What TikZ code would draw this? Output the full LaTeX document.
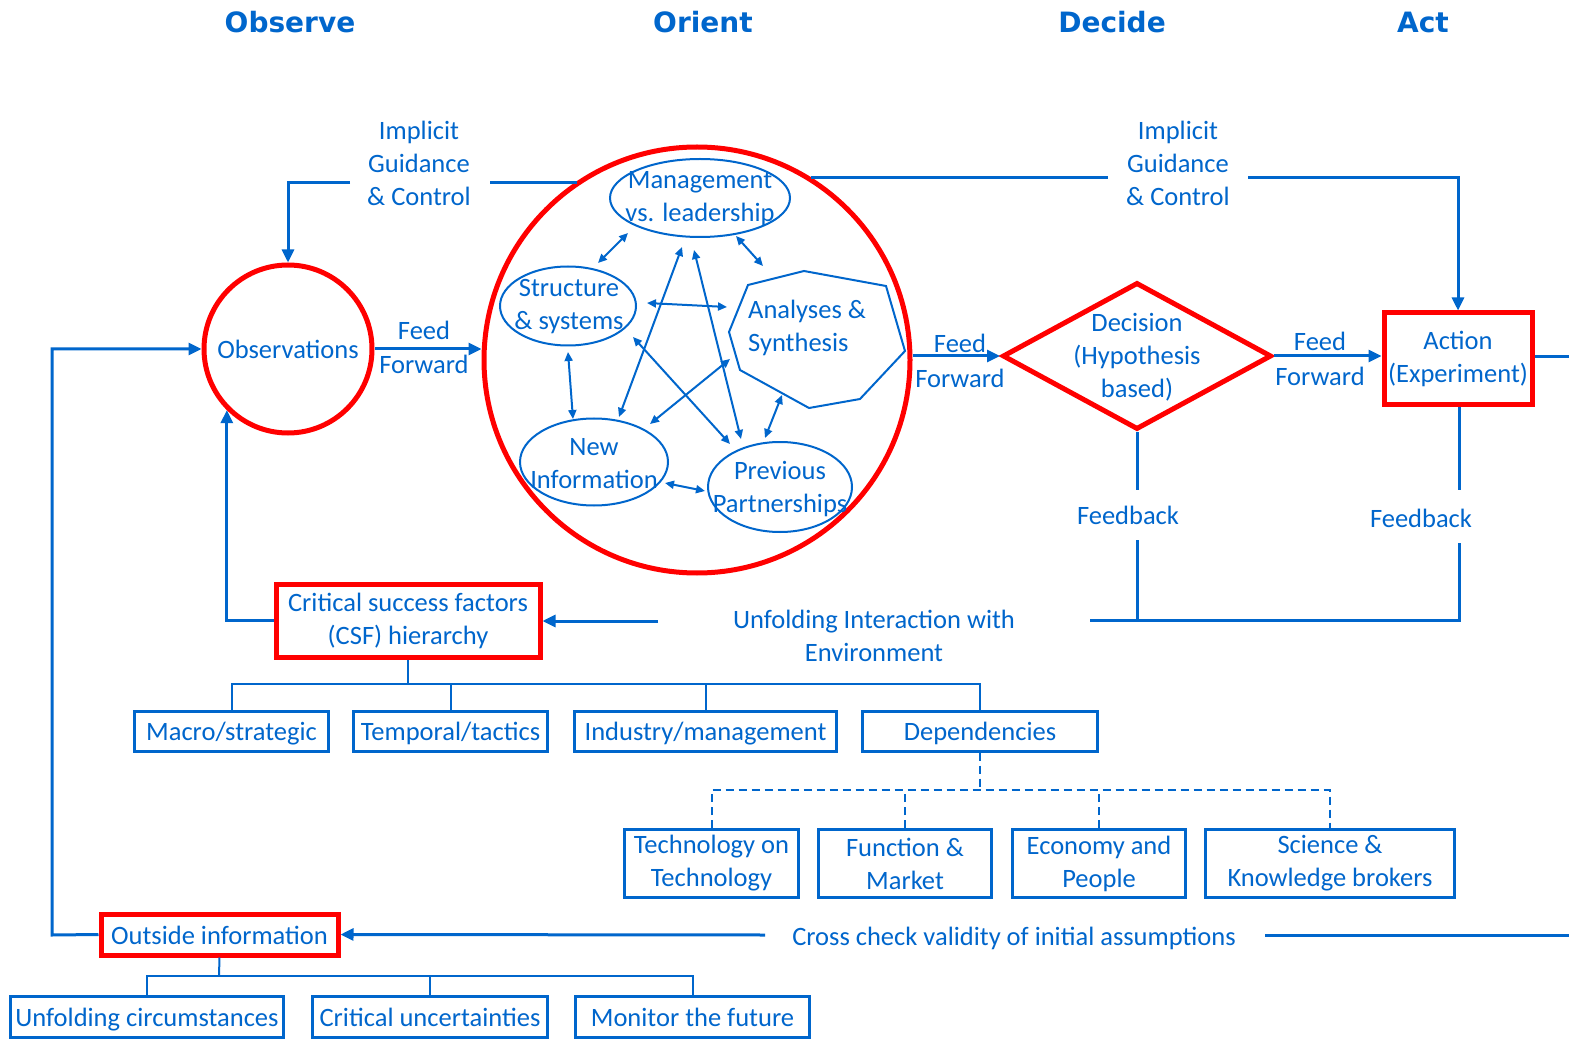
\documentclass[tikz,border=0pt]{standalone}
\usepackage{fontspec}
\setmainfont{Carlito}
\newfontfamily\hdrfont{DejaVu Sans}
\usetikzlibrary{shapes.geometric,arrows.meta,calc}
\definecolor{bl}{RGB}{0,102,204}
\definecolor{rd}{RGB}{255,0,0}
\begin{document}
\begin{tikzpicture}[x=1pt,y=-1pt,
  txt/.style={text=bl, font=\fontsize{26.5}{33}\selectfont, inner sep=0pt, align=center},
  one/.style={text height=21pt, text depth=2pt},
  hdr/.style={text=bl, font=\hdrfont\bfseries\fontsize{28}{34}\selectfont, inner sep=0pt},
  bbox/.style={txt, draw=bl, line width=3pt},
  rbox/.style={txt, draw=rd, line width=5pt},
  el/.style={ellipse, draw=bl, line width=2pt, inner sep=0pt},
  ln/.style={draw=bl, line width=3pt},
  arr/.style={ln, -{Triangle[length=13pt,width=12pt]}},
  tr/.style={draw=bl, line width=2pt},
  iarr/.style={draw=bl, line width=2pt, {Triangle[length=9pt,width=8pt]}-{Triangle[length=9pt,width=8pt]}}
]
\useasboundingbox (0,0) rectangle (1569,1040);
\fill[white] (0,0) rectangle (1569,1040);

% headers
\node[hdr] (hO) at (290,22) {Observe};
\node[hdr] (hR) at (703,22) {Orient};
\node[hdr] (hD) at (1112,22) {Decide};
\node[hdr] (hA) at (1423,22) {Act};

% main shapes
\node[txt, circle, draw=rd, line width=5pt, minimum size=168pt] (obs) at (288,349) {Observations};
\node[circle, draw=rd, line width=5pt, minimum size=426pt, inner sep=0pt] (ori) at (697,360) {};
\node[diamond, draw=rd, line width=5pt, minimum width=269pt, minimum height=147pt, inner sep=0pt] (dec) at (1137,356) {};
\node[txt] (dect) at (1137,357) {Decision\\(Hypothesis\\based)};
\node[rbox, minimum width=148pt, minimum height=92pt] (act) at (1458,359) {Action\\(Experiment)};
\node[rbox, minimum width=264pt, minimum height=73pt] (csf) at (408,620.5) {Critical success factors\\(CSF) hierarchy};
\node[rbox, one, minimum width=237pt, minimum height=41pt] (out) at (219.5,934.5) {Outside information};

% inner orient nodes
\node[el, minimum width=180pt, minimum height=78pt] (mg) at (700,198) {};
\node[txt] (mgt) at (700,199) {Management\\vs. leadership};
\node[el, minimum width=136pt, minimum height=79pt] (ss) at (568,306) {};
\node[txt] (sst) at (569,307) {Structure\\\& systems};
\node[el, minimum width=148pt, minimum height=87pt] (ni) at (594,462) {};
\node[txt] (nit) at (594,464) {New\\Information};
\node[el, minimum width=144pt, minimum height=90pt] (pp) at (780,487) {};
\node[txt] (ppt) at (780,489) {Previous\\Partnerships};
\draw[bl, line width=2pt] (748,285) -- (804,271) -- (886,286) -- (905,351) -- (860,399) -- (809,408) -- (740,370) -- (729,332) -- cycle;
\node[txt, align=left, anchor=west] (an) at (748,328) {Analyses \&\\Synthesis};

% inner arrows
\draw[iarr] (598,263) -- (628,233);
\draw[iarr] (736,236) -- (763,266);
\draw[iarr] (647,303) -- (727,307);
\draw[iarr] (568,352) -- (573,419);
\draw[iarr] (682,247) -- (619,417);
\draw[iarr] (694,250) -- (741,439);
\draw[iarr] (633,337) -- (730,444);
\draw[iarr] (730,359) -- (650,424);
\draw[iarr] (782,395) -- (765,438);
\draw[iarr] (665,483) -- (705,491);

% implicit guidance left
\node[txt] (igL) at (419,163) {Implicit\\Guidance\\\& Control};
\coordinate (igL1) at (350,183);
\coordinate (igL2) at (490,183);
\draw[arr] (igL1) -| (obs.north);
\draw[ln] (igL2) -- (ori.124 |- igL2);

% implicit guidance right
\node[txt] (igR) at (1178,163) {Implicit\\Guidance\\\& Control};
\coordinate (igR1) at (1108,178);
\coordinate (igR2) at (1248,178);
\draw[ln] (ori.58 |- igR1) -- (igR1);
\draw[arr] (igR2) -| (act.north);

% feed forward
\draw[arr] (obs.east) -- (obs.east -| ori.west);
\node[txt] (ff1a) at (424,330) {Feed};
\node[txt] (ff1b) at (424,364) {Forward};
\draw[arr] (dec.west -| ori.east) -- (dec.west);
\node[txt] (ff2a) at (960,343) {Feed};
\node[txt] (ff2b) at (960,378) {Forward};
\draw[arr] (dec.east) -- (dec.east -| act.west);
\node[txt] (ff3a) at (1320,341) {Feed};
\node[txt] (ff3b) at (1320,376) {Forward};
\coordinate (redge) at (1569,357);
\draw[ln] (act.east |- redge) -- (redge);

% feedback
\coordinate (fb1) at (1137,490);
\coordinate (fb1b) at (1137,540);
\coordinate (fb2) at (1459,490);
\coordinate (fb2b) at (1459,543);
\coordinate (env) at (1090,620);
\draw[ln] (dec.south) -- (fb1);
\draw[ln] (fb1b) -- (fb1b |- env);
\draw[ln] (act.south -| fb2) -- (fb2);
\draw[ln] (fb2b) |- (env);
\node[txt] (fbt1) at (1128,515) {Feedback};
\node[txt] (fbt2) at (1421,518) {Feedback};
\node[txt] (uie) at (874,636) {Unfolding Interaction with\\Environment};
\coordinate (uiA) at (658,621);
\draw[arr] (uiA) -- (csf.east |- uiA);
\draw[arr] (csf.west) -| (obs.225);

% outside info loop
\coordinate (oc) at (52,935);
\draw[arr] (out.west) -- (oc) |- (obs.west);
\coordinate (cc1) at (765,935);
\coordinate (cc2) at (1265,935);
\coordinate (cc3) at (1569,935);
\draw[arr] (cc1) -- (out.east);
\draw[ln] (cc2) -- (cc3);
\node[txt, one] (cct) at (1014,936) {Cross check validity of initial assumptions};

% CSF tree
\node[bbox, one, minimum width=194pt, minimum height=40pt] (macro) at (231.5,731) {Macro/strategic};
\node[bbox, one, minimum width=194pt, minimum height=40pt] (temp) at (450.5,731) {Temporal/tactics};
\node[bbox, one, minimum width=262pt, minimum height=40pt] (ind) at (705.5,731) {Industry/management};
\node[bbox, one, minimum width=235pt, minimum height=40pt] (dep) at (980,731) {Dependencies};
\coordinate (cj) at (408,684);
\draw[tr] (csf.south) -- (cj);
\draw[tr] (macro.north) |- (dep.north |- cj) -- (dep.north);
\draw[tr] (temp.north) -- (temp.north |- cj);
\draw[tr] (ind.north) -- (ind.north |- cj);

% Dependencies subtree
\node[bbox, minimum width=174pt, minimum height=68pt] (tech) at (711.5,863.5) {Technology on\\Technology};
\node[bbox, minimum width=173pt, minimum height=68pt] (func) at (905,863.5) {Function \&\\Market};
\node[bbox, minimum width=173pt, minimum height=68pt] (econ) at (1099,863.5) {Economy and\\People};
\node[bbox, minimum width=249pt, minimum height=68pt] (sci) at (1330,863.5) {Science \&\\Knowledge brokers};
\coordinate (dj) at (980,790);
\begin{scope}[tr, dash pattern=on 8pt off 5pt]
\draw (dep.south) -- (dj);
\draw (tech.north) |- (sci.north |- dj) -- (sci.north);
\draw (func.north) -- (func.north |- dj);
\draw (econ.north) -- (econ.north |- dj);
\end{scope}

% Outside info subtree
\node[bbox, one, minimum width=273pt, minimum height=41pt] (unf) at (147,1017) {Unfolding circumstances};
\node[bbox, one, minimum width=235pt, minimum height=41pt] (crit) at (430,1017) {Critical uncertainties};
\node[bbox, one, minimum width=234pt, minimum height=41pt] (mon) at (692.5,1017) {Monitor the future};
\coordinate (oj) at (219,976);
\draw[tr] (out.south) -- (oj);
\draw[tr] (unf.north) |- (mon.north |- oj) -- (mon.north);
\draw[tr] (crit.north) -- (crit.north |- oj);
\end{tikzpicture}
\end{document}
